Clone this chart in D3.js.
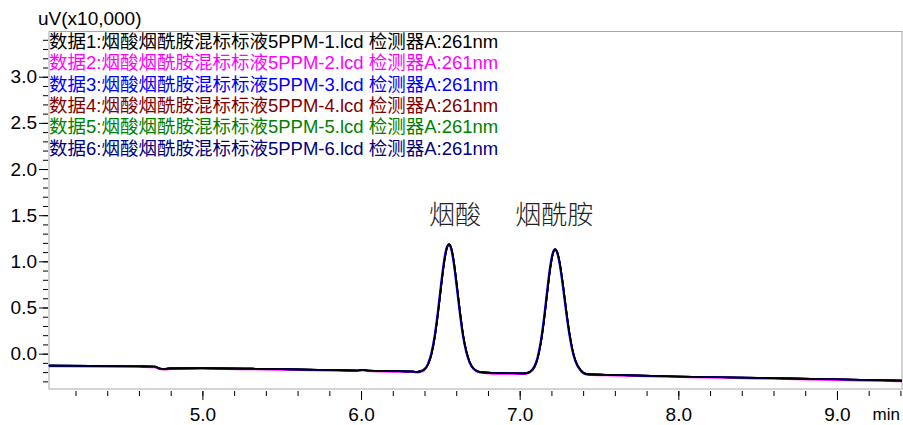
<!DOCTYPE html>
<html>
<head>
<meta charset="utf-8">
<script src="https://cdn.jsdelivr.net/npm/d3@7"></script>
<style>
  body { margin: 0; background: #fff; }
  text { font-family: "Liberation Sans", "Noto Sans CJK SC", sans-serif; }
</style>
</head>
<body>
<svg id="chart"></svg>
<script>
// retention time (min) and detector signal (uV x10,000)
var times = [
  4.033, 4.30, 4.60, 4.70, 4.73, 4.76, 4.80, 5.00, 5.40, 5.80, 5.98, 6.01, 6.04, 6.20, 6.33,
  6.355, 6.395, 6.425, 6.445, 6.465, 6.485, 6.505, 6.525, 6.54, 6.555, 6.57, 6.585, 6.605,
  6.625, 6.645, 6.665, 6.685, 6.715, 6.755,
  6.85, 6.95,
  7.024, 7.064, 7.094, 7.114, 7.134, 7.154, 7.174, 7.194, 7.209, 7.224, 7.239, 7.254, 7.274,
  7.294, 7.314, 7.334, 7.354, 7.384, 7.424,
  7.60, 8.00, 8.50, 9.00, 9.41
];
var signal = [
  -0.130, -0.133, -0.137, -0.140, -0.160, -0.165, -0.160, -0.157, -0.165, -0.177, -0.182, -0.174, -0.182, -0.188, -0.193,
  -0.198, -0.177, -0.106, 0.001, 0.181, 0.434, 0.729, 1.000, 1.136, 1.185, 1.136, 1.000, 0.729,
  0.440, 0.190, 0.020, -0.090, -0.170, -0.200,
  -0.210, -0.212,
  -0.214, -0.198, -0.141, -0.046, 0.121, 0.366, 0.662, 0.939, 1.080, 1.131, 1.090, 0.973, 0.736,
  0.466, 0.222, 0.036, -0.086, -0.177, -0.222,
  -0.230, -0.247, -0.262, -0.278, -0.292
];

var seriesNames = [
  "数据1:烟酸烟酰胺混标标液5PPM-1.lcd 检测器A:261nm",
  "数据2:烟酸烟酰胺混标标液5PPM-2.lcd 检测器A:261nm",
  "数据3:烟酸烟酰胺混标标液5PPM-3.lcd 检测器A:261nm",
  "数据4:烟酸烟酰胺混标标液5PPM-4.lcd 检测器A:261nm",
  "数据5:烟酸烟酰胺混标标液5PPM-5.lcd 检测器A:261nm",
  "数据6:烟酸烟酰胺混标标液5PPM-6.lcd 检测器A:261nm"
];
var seriesColors = ["#000000", "#ff00ff", "#0000ff", "#800000", "#008000", "#000080"];
// small differences between the injections (signal and time shifts)
var seriesDy = [0, -0.009, 0, 0, 0, 0];
var seriesDt = [0, 0, -0.004, 0, 0, 0];
var drawOrder = [1, 4, 3, 5, 2, 0];

var peakLabels = ["烟酸", "烟酰胺"];
var peakTimes = [6.555, 7.224];

var xMajor = [5.0, 6.0, 7.0, 8.0, 9.0];
var yMajor = [0.0, 0.5, 1.0, 1.5, 2.0, 2.5, 3.0];

var outerWidth = 903;
var outerHeight = 425;
var margin = { left: 49, top: 31.5, right: 1, bottom: 36 };
var innerWidth  = outerWidth  - margin.left - margin.right;
var innerHeight = outerHeight - margin.top  - margin.bottom;

var svg = d3.select("#chart")
  .attr("width",  outerWidth)
  .attr("height", outerHeight);
var g = svg.append("g")
  .attr("transform", "translate(" + margin.left + "," + margin.top + ")");

var xScale = d3.scaleLinear().domain([4.033, 9.41]).range([0, innerWidth]);
var yScale = d3.scaleLinear().domain([-0.383, 3.49]).range([innerHeight, 0]);

var xMinor = d3.range(21, 48).map(function (d){ return d / 5; }).filter(function (d){ return d > 4.04; });
var yMinor = d3.range(-3, 35).map(function (d){ return d / 10; });

// frame
g.append("rect")
  .attr("x", 0).attr("y", 0)
  .attr("width", innerWidth).attr("height", innerHeight)
  .attr("fill", "none")
  .attr("stroke", "#a8a8a8")
  .attr("stroke-width", 1);

// x axis
var xMinorG = g.append("g")
  .attr("transform", "translate(0," + (innerHeight + 2) + ")")
  .call(d3.axisBottom(xScale).tickValues(xMinor).tickSize(5).tickFormat(""));
var xMajorG = g.append("g")
  .attr("transform", "translate(0," + (innerHeight + 2) + ")")
  .call(d3.axisBottom(xScale).tickValues(xMajor).tickSize(9).tickPadding(8).tickFormat(d3.format(".1f")));

// y axis
var yMinorG = g.append("g")
  .attr("transform", "translate(-1,0)")
  .call(d3.axisLeft(yScale).tickValues(yMinor).tickSize(5).tickFormat(""));
var yMajorG = g.append("g")
  .attr("transform", "translate(-1,0)")
  .call(d3.axisLeft(yScale).tickValues(yMajor).tickSize(9).tickPadding(2).tickFormat(d3.format(".1f")));

[xMinorG, xMajorG, yMinorG, yMajorG].forEach(function (a){
  a.select(".domain").remove();
  a.selectAll("line").attr("stroke", "#000");
  a.selectAll("text")
    .attr("fill", "#000")
    .style("font-size", "19px")
    .style("font-family", "'Liberation Sans', Arial, sans-serif");
});

// unit labels
svg.append("text")
  .attr("x", 38).attr("y", 25)
  .style("font-size", "19px")
  .attr("fill", "#000")
  .text("uV(x10,000)");
svg.append("text")
  .attr("x", 900).attr("y", 420)
  .attr("text-anchor", "end")
  .style("font-size", "17px")
  .attr("fill", "#000")
  .text("min");

// traces
var line = d3.line()
  .x(function (d){ return xScale(d[0]); })
  .y(function (d){ return yScale(d[1]); })
  .curve(d3.curveMonotoneX);

drawOrder.forEach(function (s){
  var pts = times.map(function (t, i){ return [t + seriesDt[s], signal[i] + seriesDy[s]]; });
  g.append("path")
    .datum(pts)
    .attr("fill", "none")
    .attr("stroke", seriesColors[s])
    .attr("stroke-width", 1.6)
    .attr("stroke-linejoin", "round")
    .attr("d", line);
});

// legend
g.selectAll(".legend").data(seriesNames).enter().append("text")
  .attr("class", "legend")
  .attr("x", 0)
  .attr("y", function (d, i){ return 16.5 + i * 21.3; })
  .attr("fill", function (d, i){ return seriesColors[i]; })
  .style("font-size", "18.5px")
  .text(function (d){ return d; });

// peak names
var labelDx = [6, -1];
g.selectAll(".peak").data(peakLabels).enter().append("text")
  .attr("class", "peak")
  .attr("x", function (d, i){ return xScale(peakTimes[i]) + labelDx[i]; })
  .attr("y", yScale(1.40))
  .attr("text-anchor", "middle")
  .attr("fill", "#222")
  .style("font-family", "'Noto Sans CJK SC', sans-serif")
  .style("font-weight", "300")
  .style("font-size", "26px")
  .text(function (d){ return d; });
</script>
</body>
</html>
